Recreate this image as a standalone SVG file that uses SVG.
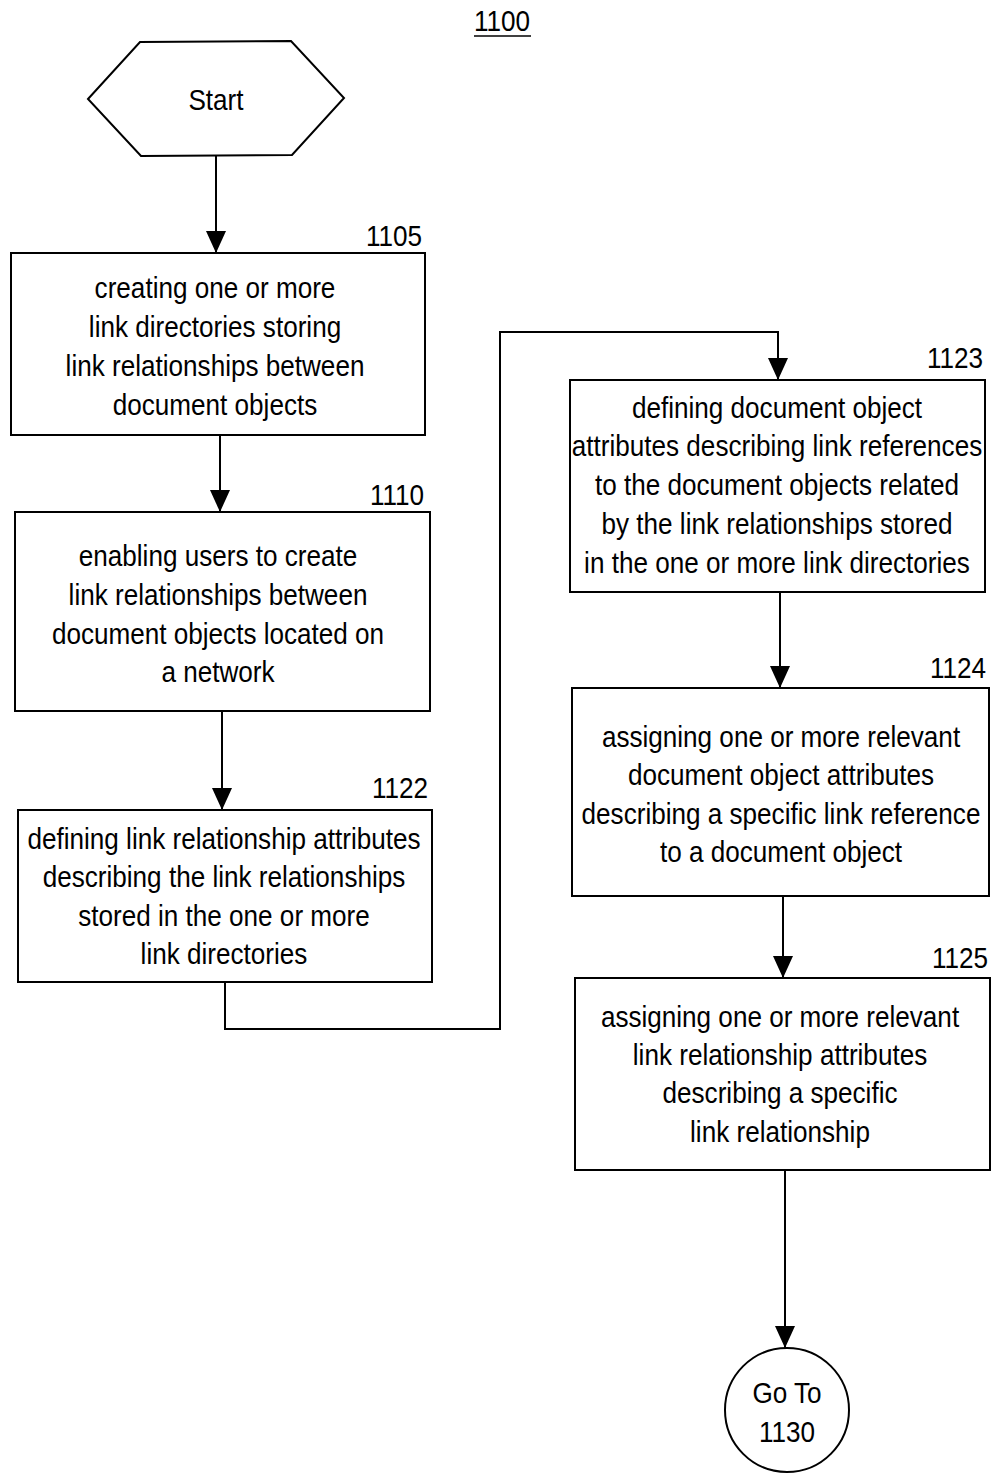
<svg xmlns="http://www.w3.org/2000/svg" width="992" height="1475" viewBox="0 0 992 1475">
  <style>
    .shape { fill: #fff; stroke: #000; stroke-width: 2; }
    .wire { fill: none; stroke: #000; stroke-width: 2; }
    text { font-family: "Liberation Sans", Arial, sans-serif; font-size: 30px; fill: #000; text-anchor: middle; }
  </style>
  <defs>
    <marker id="arrow" markerUnits="userSpaceOnUse" markerWidth="22" markerHeight="22" refX="22" refY="10" orient="auto">
      <path d="M0,0 L22,10 L0,20 z" fill="#000"/>
    </marker>
  </defs>

  <rect width="992" height="1475" fill="#fff"/>

  <!-- figure number -->
  <g id="figure-label">
    <g transform="translate(502 0) scale(0.87 1)"><text x="0" y="31">1100</text></g>
    <line x1="474" y1="36" x2="531" y2="36" stroke="#000" stroke-width="1.5"/>
  </g>

  <!-- connectors -->
  <g id="connectors">
    <path class="wire" d="M216,156 V253" marker-end="url(#arrow)"/>
    <path class="wire" d="M220,435 V512" marker-end="url(#arrow)"/>
    <path class="wire" d="M222,711 V810" marker-end="url(#arrow)"/>
    <path class="wire" d="M225,982 V1029 H500 V332 H778 V380" marker-end="url(#arrow)"/>
    <path class="wire" d="M780,592 V688" marker-end="url(#arrow)"/>
    <path class="wire" d="M783,896 V978" marker-end="url(#arrow)"/>
    <path class="wire" d="M785,1170 V1348" marker-end="url(#arrow)"/>
  </g>

  <!-- start terminator -->
  <g id="start">
    <polygon class="shape" points="88,99 140,42 291,41 344,98 292,155 141,156"/>
    <g transform="translate(216 0) scale(0.87 1)"><text x="0" y="110">Start</text></g>
  </g>

  <g id="step-1105">
    <rect class="shape" x="11" y="253" width="414" height="182"/>
    <g transform="translate(394 0) scale(0.87 1)"><text x="0" y="246">1105</text></g>
    <g transform="translate(215 0) scale(0.87 1)">
      <text x="0" y="298">creating one or more</text>
      <text x="0" y="337">link directories storing</text>
      <text x="0" y="376">link relationships between</text>
      <text x="0" y="415">document objects</text>
    </g>
  </g>

  <g id="step-1110">
    <rect class="shape" x="15" y="512" width="415" height="199"/>
    <g transform="translate(397 0) scale(0.87 1)"><text x="0" y="505">1110</text></g>
    <g transform="translate(218 0) scale(0.87 1)">
      <text x="0" y="566">enabling users to create</text>
      <text x="0" y="605">link relationships between</text>
      <text x="0" y="644">document objects located on</text>
      <text x="0" y="682">a network</text>
    </g>
  </g>

  <g id="step-1122">
    <rect class="shape" x="18" y="810" width="414" height="172"/>
    <g transform="translate(400 0) scale(0.87 1)"><text x="0" y="798">1122</text></g>
    <g transform="translate(224 0) scale(0.87 1)">
      <text x="0" y="849">defining link relationship attributes</text>
      <text x="0" y="887">describing the link relationships</text>
      <text x="0" y="926">stored in the one or more</text>
      <text x="0" y="964">link directories</text>
    </g>
  </g>

  <g id="step-1123">
    <rect class="shape" x="570" y="380" width="415" height="212"/>
    <g transform="translate(955 0) scale(0.87 1)"><text x="0" y="368">1123</text></g>
    <g transform="translate(777 0) scale(0.87 1)">
      <text x="0" y="418">defining document object</text>
      <text x="0" y="456">attributes describing link references</text>
      <text x="0" y="495">to the document objects related</text>
      <text x="0" y="534">by the link relationships stored</text>
      <text x="0" y="573">in the one or more link directories</text>
    </g>
  </g>

  <g id="step-1124">
    <rect class="shape" x="572" y="688" width="417" height="208"/>
    <g transform="translate(958 0) scale(0.87 1)"><text x="0" y="678">1124</text></g>
    <g transform="translate(781 0) scale(0.87 1)">
      <text x="0" y="747">assigning one or more relevant</text>
      <text x="0" y="785">document object attributes</text>
      <text x="0" y="824">describing a specific link reference</text>
      <text x="0" y="862">to a document object</text>
    </g>
  </g>

  <g id="step-1125">
    <rect class="shape" x="575" y="978" width="415" height="192"/>
    <g transform="translate(960 0) scale(0.87 1)"><text x="0" y="968">1125</text></g>
    <g transform="translate(780 0) scale(0.87 1)">
      <text x="0" y="1027">assigning one or more relevant</text>
      <text x="0" y="1065">link relationship attributes</text>
      <text x="0" y="1103">describing a specific</text>
      <text x="0" y="1142">link relationship</text>
    </g>
  </g>

  <!-- off-page connector -->
  <g id="goto-1130">
    <circle class="shape" cx="787" cy="1410" r="62"/>
    <g transform="translate(787 0) scale(0.87 1)">
      <text x="0" y="1403">Go To</text>
      <text x="0" y="1442">1130</text>
    </g>
  </g>
</svg>
